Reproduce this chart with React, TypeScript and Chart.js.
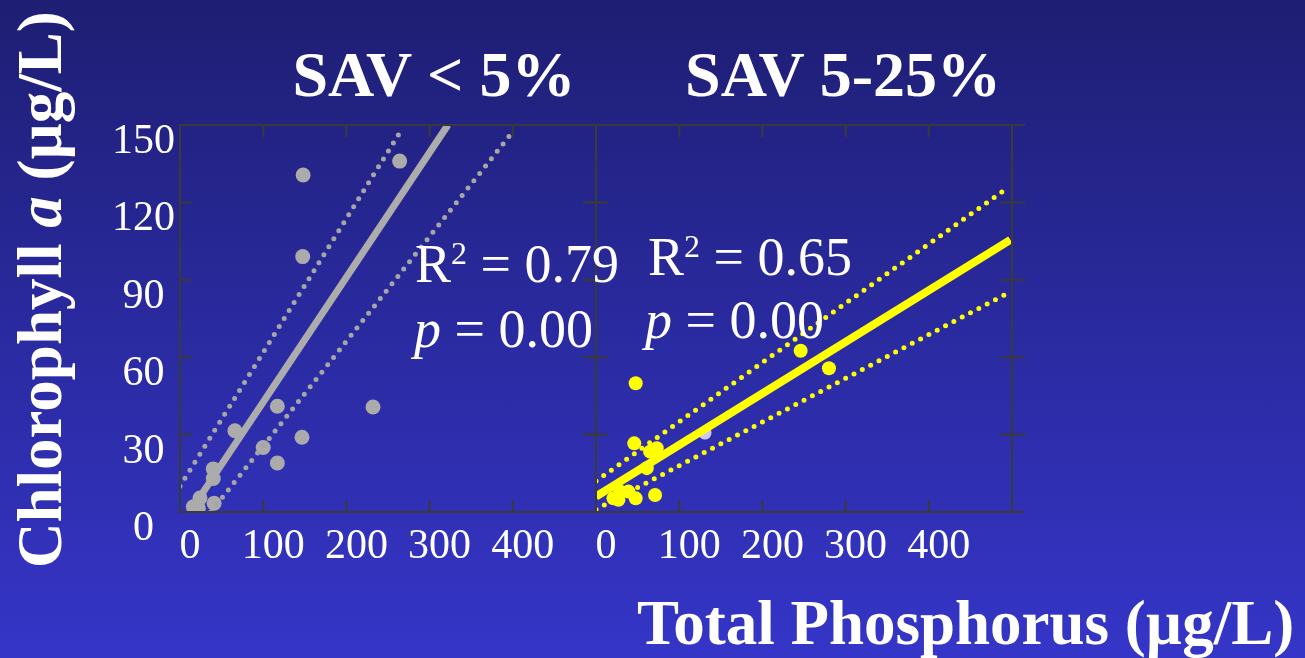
import React, { useEffect, useRef } from 'react';
import { Chart, registerables } from 'chart.js';

Chart.register(...registerables);

// ---- Axis ticks ----
const xTickValues = [0, 100, 200, 300, 400, 500];
const yTickValues = [0, 30, 60, 90, 120, 150];

// ---- Panel 1: SAV < 5% ----
const lowTP = [148, 264, 147.5, 117, 232, 146.6, 100, 117, 66, 40, 40, 41, 24, 16, 22];
const lowChla = [130.6, 136, 99, 41, 40.7, 29, 25, 19, 31.5, 16.7, 13, 3.4, 5.4, 2, 1.5];
const lowFitTP = [14, 322];
const lowFitChla = [1, 150];
const lowUpperTP = [0, 266];
const lowUpperChla = [10, 148];
const lowLowerTP = [37, 399];
const lowLowerChla = [0, 147];

// ---- Panel 2: SAV 5-25% ----
const midTP = [47.7, 246, 280, 46, 73, 65, 61, 71, 47.7, 39, 27, 21, 29];
const midChla = [49.9, 62.5, 55.7, 26.6, 24.7, 23.4, 17, 6.6, 5.3, 7.9, 4.7, 5.3, 7.9];
const midFaintTP = [131];
const midFaintChla = [30.6];
const midFitTP = [0, 498];
const midFitChla = [6, 105.5];
const midUpperTP = [0, 492];
const midUpperChla = [12, 125];
const midLowerTP = [0, 496];
const midLowerChla = [1, 85];

const serif = "'Liberation Serif', 'Times New Roman', serif";

const pts = (xs: number[], ys: number[]) => xs.map((x, i) => ({ x, y: ys[i] }));

const framePlugin = {
  id: 'frame',
  afterDraw(chart: any, _args: any, opts: any) {
    const { ctx, chartArea: a, scales } = chart;
    const xs = scales.x;
    const ys = scales.y;
    const L = 12;
    ctx.save();
    ctx.strokeStyle = '#3a3a3a';
    ctx.lineWidth = 2;
    ctx.strokeRect(a.left, a.top, a.right - a.left, a.bottom - a.top);
    ctx.beginPath();
    xTickValues.forEach((v) => {
      if (v <= xs.min || v >= xs.max) return;
      const px = xs.getPixelForValue(v);
      ctx.moveTo(px, a.bottom);
      ctx.lineTo(px, a.bottom - L);
      ctx.moveTo(px, a.top);
      ctx.lineTo(px, a.top + L);
    });
    yTickValues.forEach((v) => {
      const py = ys.getPixelForValue(v);
      const inner = v > ys.min && v < ys.max;
      const inL = inner ? L : 0;
      const lo = v < ys.max ? opts.leftOut || 0 : 0;
      ctx.moveTo(a.left - lo, py);
      ctx.lineTo(a.left + inL, py);
      ctx.moveTo(a.right - inL, py);
      ctx.lineTo(a.right + (opts.rightOut || 0), py);
    });
    ctx.stroke();
    ctx.restore();
  },
};

type PanelCfg = {
  points: { x: number; y: number }[];
  faint?: { x: number; y: number }[];
  fit: { x: number; y: number }[];
  upper: { x: number; y: number }[];
  lower: { x: number; y: number }[];
  pointColor: string;
  lineColor: string;
  dotColor: string;
  radius: number;
  lineWidth: number;
  showYLabels: boolean;
  yWidth: number;
  padTop: number;
  padRight: number;
  leftOut: number;
  rightOut: number;
};

function makeConfig(c: PanelCfg): any {
  const dotted = {
    showLine: true,
    borderColor: c.dotColor,
    borderWidth: 5,
    borderDash: [0, 9.4],
    borderCapStyle: 'round',
    pointRadius: 0,
    clip: 0,
    order: 1,
  };
  const datasets: any[] = [
    {
      data: c.fit,
      showLine: true,
      borderColor: c.lineColor,
      borderWidth: c.lineWidth,
      pointRadius: 0,
      clip: 0,
      order: 0,
    },
    { ...dotted, data: c.upper },
    { ...dotted, data: c.lower },
    {
      data: c.points,
      backgroundColor: c.pointColor,
      borderColor: c.pointColor,
      pointRadius: c.radius,
      borderWidth: 0,
      order: 2,
    },
  ];
  if (c.faint) {
    datasets.push({
      data: c.faint,
      backgroundColor: '#c9c9f2',
      borderColor: '#c9c9f2',
      pointRadius: 6.5,
      borderWidth: 0,
      order: 3,
    });
  }
  return {
    type: 'scatter',
    data: { datasets },
    plugins: [framePlugin],
    options: {
      animation: false,
      responsive: false,
      events: [],
      layout: { padding: { top: c.padTop, right: c.padRight, left: 0, bottom: 0 } },
      plugins: {
        legend: { display: false },
        tooltip: { enabled: false },
        frame: { leftOut: c.leftOut, rightOut: c.rightOut },
      },
      scales: {
        x: {
          type: 'linear',
          min: 0,
          max: 500,
          grid: { display: false, drawTicks: false },
          border: { display: false },
          afterBuildTicks: (s: any) => {
            s.ticks = xTickValues.map((v) => ({ value: v }));
          },
          afterFit: (s: any) => {
            s.height = 58;
          },
          ticks: {
            autoSkip: false,
            maxRotation: 0,
            padding: 10,
            labelOffset: 10,
            color: '#ffffff',
            font: { family: serif, size: 42 },
            callback: (v: any) => (v === 500 ? '' : String(v)),
          },
        },
        y: {
          type: 'linear',
          min: 0,
          max: 150,
          grid: { display: false, drawTicks: false },
          border: { display: false },
          afterBuildTicks: (s: any) => {
            s.ticks = yTickValues.map((v) => ({ value: v }));
          },
          afterFit: (s: any) => {
            s.width = c.yWidth;
          },
          ticks: {
            display: c.showYLabels,
            autoSkip: false,
            padding: 5,
            labelOffset: 17,
            crossAlign: 'center',
            color: '#ffffff',
            font: { family: serif, size: 42 },
          },
        },
      },
    },
  };
}

function Panel(props: { cfg: PanelCfg; left: number; top: number; width: number; height: number }) {
  const ref = useRef<HTMLCanvasElement | null>(null);
  useEffect(() => {
    if (!ref.current) return;
    const chart = new Chart(ref.current, makeConfig(props.cfg));
    return () => chart.destroy();
  }, []);
  return (
    <canvas
      ref={ref}
      width={props.width}
      height={props.height}
      style={{ position: 'absolute', left: props.left, top: props.top, width: props.width, height: props.height }}
    />
  );
}

const textBase: React.CSSProperties = {
  position: 'absolute',
  color: '#ffffff',
  fontFamily: serif,
  lineHeight: 1,
  whiteSpace: 'nowrap',
  margin: 0,
};

export default function App() {
  const lowCfg: PanelCfg = {
    points: pts(lowTP, lowChla),
    fit: pts(lowFitTP, lowFitChla),
    upper: pts(lowUpperTP, lowUpperChla),
    lower: pts(lowLowerTP, lowLowerChla),
    pointColor: '#ababab',
    lineColor: '#acacac',
    dotColor: '#a6a6a6',
    radius: 7.5,
    lineWidth: 7,
    showYLabels: true,
    yWidth: 80,
    padTop: 65,
    padRight: 14,
    leftOut: 0,
    rightOut: 0,
  };
  const midCfg: PanelCfg = {
    points: pts(midTP, midChla),
    faint: pts(midFaintTP, midFaintChla),
    fit: pts(midFitTP, midFitChla),
    upper: pts(midUpperTP, midUpperChla),
    lower: pts(midLowerTP, midLowerChla),
    pointColor: '#ffff00',
    lineColor: '#ffff00',
    dotColor: '#ffff00',
    radius: 7,
    lineWidth: 8,
    showYLabels: false,
    yWidth: 36,
    padTop: 25,
    padRight: 28,
    leftOut: 13,
    rightOut: 13,
  };

  const F = 54;
  const sup: React.CSSProperties = { fontSize: 32, position: 'relative', top: -18 };
  const TF = 64;

  return (
    <div
      style={{
        position: 'absolute',
        left: 0,
        top: 0,
        width: 1305,
        height: 658,
        overflow: 'hidden',
        background: 'linear-gradient(to bottom, #1e1e73 0%, #2a2aa0 50%, #3535c8 100%)',
      }}
    >
      <Panel cfg={lowCfg} left={100} top={60} width={510} height={510} />
      <Panel cfg={midCfg} left={560} top={100} width={480} height={470} />

      <div style={{ ...textBase, fontSize: TF, fontWeight: 'bold', left: 434, top: 97 - 0.8375 * TF, transform: 'translateX(-50%)' }}>
        SAV &lt; 5%
      </div>
      <div style={{ ...textBase, fontSize: TF, fontWeight: 'bold', left: 843, top: 97 - 0.8375 * TF, transform: 'translateX(-50%)' }}>
        SAV 5-25%
      </div>

      <div style={{ ...textBase, fontSize: F, left: 415, top: 282 - 0.8375 * F }}>
        R<span style={sup}>2</span> = 0.79
      </div>
      <div style={{ ...textBase, fontSize: F, left: 414, top: 347 - 0.8375 * F }}>
        <i>p</i> = 0.00
      </div>
      <div style={{ ...textBase, fontSize: F, left: 648, top: 275 - 0.8375 * F }}>
        R<span style={sup}>2</span> = 0.65
      </div>
      <div style={{ ...textBase, fontSize: F, left: 645, top: 338 - 0.8375 * F }}>
        <i>p</i> = 0.00
      </div>

      <div style={{ ...textBase, fontSize: 63, fontWeight: 'bold', left: 637, top: 645 - 0.8375 * 63 }}>
        Total Phosphorus (µg/L)
      </div>
      <div
        style={{
          ...textBase,
          fontSize: 63,
          fontWeight: 'bold',
          left: 9,
          top: 568,
          transformOrigin: '0 0',
          transform: 'rotate(-90deg)',
        }}
      >
        Chlorophyll <i>a</i> (µg/L)
      </div>
    </div>
  );
}
